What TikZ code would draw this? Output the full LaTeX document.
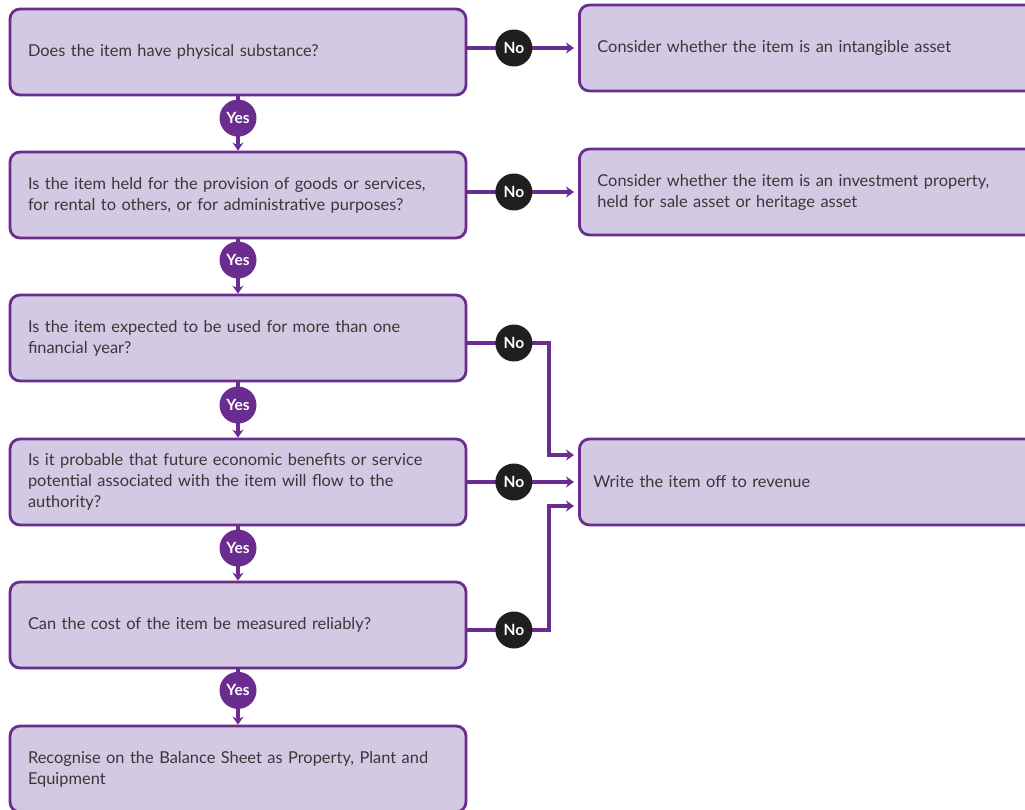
\documentclass[tikz,border=0pt]{standalone}
\usepackage{fontspec}
\setmainfont{Lato}
\usetikzlibrary{arrows.meta,positioning,calc}
\definecolor{plum}{HTML}{6A2C8E}
\definecolor{lilac}{HTML}{D3C9E2}
\definecolor{ink}{HTML}{383838}

\begin{document}
\begin{tikzpicture}[x=1pt, y=-1pt,
  box/.style={draw=plum, fill=lilac, line width=2.8pt, rounded corners=10pt, minimum width=456pt, minimum height=86pt, text width=420pt, inner xsep=18pt, align=left, text=ink, font=\fontsize{16.4}{21}\selectfont},
  yes/.style={circle, fill=plum, text=white, inner sep=0pt, minimum size=37pt, font=\fontsize{15.5}{15}\selectfont\bfseries},
  no/.style={circle, fill=black!88, text=white, inner sep=0pt, minimum size=37pt, font=\fontsize{15.5}{15}\selectfont\bfseries},
  arr/.style={-{Stealth[length=8pt, width=11pt]}, draw=plum, line width=3.4pt}
]
  \useasboundingbox (0,0) rectangle (1025,809);
  \clip (0,0) rectangle (1025,809);

  % questions
  \node[box] (q1) at (238,52)  {Does the item have physical substance?};
  \node[box] (q2) at (238,195) {Is the item held for the provision of goods or services,\\for rental to others, or for administrative purposes?};
  \node[box] (q3) at (238,338) {Is the item expected to be used for more than one\\financial year?};
  \node[box] (q4) at (238,482) {Is it probable that future economic benefits or service\\potential associated with the item will flow to the\\authority?};
  \node[box] (q5) at (238,625) {Can the cost of the item be measured reliably?};
  \node[box] (q6) at (238,769) {Recognise on the Balance Sheet as Property, Plant and\\Equipment};

  % outcomes
  \node[box, anchor=west] (r1) at (578,48)  {Consider whether the item is an intangible asset};
  \node[box, anchor=west] (r2) at (578,192) {Consider whether the item is an investment property,\\held for sale asset or heritage asset};
  \node[box, anchor=west, inner xsep=14pt, text width=428pt] (r3) at (578,482) {Write the item off to revenue};

  % yes
  \draw[arr] (q1.south) -- node[yes, pos=0.4] {Yes} (q2.north);
  \draw[arr] (q2.south) -- node[yes, pos=0.38] {Yes} (q3.north);
  \draw[arr] (q3.south) -- node[yes, pos=0.41] {Yes} (q4.north);
  \draw[arr] (q4.south) -- node[yes, pos=0.4] {Yes} (q5.north);
  \draw[arr] (q5.south) -- node[yes, pos=0.38] {Yes} (q6.north);

  % no
  \draw[arr, shorten >=4pt] (q1.east |- r1.west) -- node[no, pos=0.42] {No} (r1.west);
  \draw[arr, shorten >=4pt] (q2.east |- r2.west) -- node[no, pos=0.42] {No} (r2.west);
  \coordinate (j3) at ($(r3.west)+(-29,-27)$);
  \coordinate (j5) at ($(r3.west)+(-29,24)$);
  \draw[arr, shorten >=4pt] (q3.east |- 0,343) -- node[no, pos=0.57] {No} (j3 |- 0,343) -- (j3) -- ($(r3.west)+(0,-27)$);
  \draw[arr, shorten >=4pt] (q4.east) -- node[no, pos=0.42] {No} (r3.west);
  \draw[arr, shorten >=4pt] (q5.east |- 0,630) -- node[no, pos=0.57] {No} (j5 |- 0,630) -- (j5) -- ($(r3.west)+(0,24)$);
\end{tikzpicture}
\end{document}
